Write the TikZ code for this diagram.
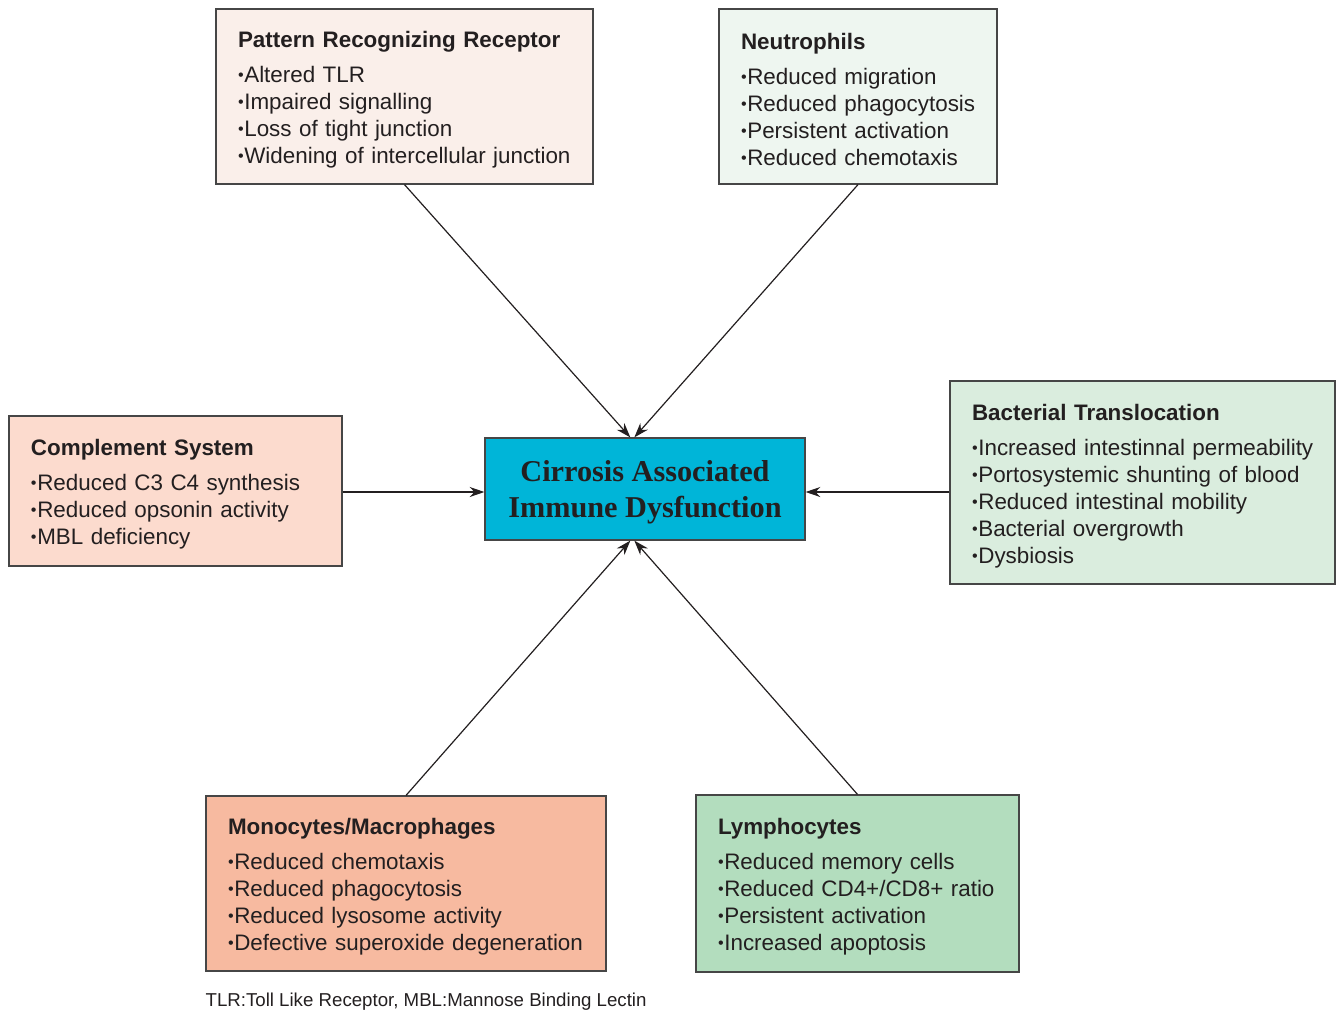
\documentclass[tikz,border=0pt]{standalone}
\usepackage{fontspec}
\setmainfont{Liberation Sans}
\newfontfamily\serifbold{Liberation Serif}
\usetikzlibrary{arrows.meta,calc}

\definecolor{inkgrey}{RGB}{35,31,32}
\definecolor{edgegrey}{RGB}{70,70,70}
\definecolor{prrfill}{RGB}{250,239,234}
\definecolor{neufill}{RGB}{238,246,240}
\definecolor{compfill}{RGB}{252,219,206}
\definecolor{bactfill}{RGB}{218,237,222}
\definecolor{monofill}{RGB}{247,186,160}
\definecolor{lymfill}{RGB}{179,221,190}
\definecolor{cadfill}{RGB}{0,181,216}

\newcommand\itm[1]{\mbox{\raisebox{0.08em}{\scalebox{0.72}{\textbullet}}\kern0.03em#1}}
\newcommand\ttl[1]{\mbox{\rule{0pt}{17pt}\textbf{#1}}}

\tikzset{every picture/.style={line width=0.9pt},
  infobox/.style={draw=edgegrey, rectangle, align=left, inner xsep=16.5pt,
    text=inkgrey, font=\fontsize{16.8}{20.25}\selectfont},
  arr/.style={draw=inkgrey, -{Stealth[length=11pt,width=7.5pt,inset=3.5pt]}}}

\begin{document}
\begin{tikzpicture}[x=0.75pt,y=0.75pt,yscale=-1,xscale=1]
\useasboundingbox (0,0) rectangle (1336,1011);

% Centre box
\node (cad) [draw=edgegrey, fill=cadfill, minimum width=240pt, minimum height=76.5pt,
  align=center, text=inkgrey, font=\serifbold\bfseries\fontsize{22.7}{27}\selectfont]
  at (645,489) {\rule{0pt}{20pt}Cirrosis Associated\\Immune Dysfunction};

% Outer boxes
\node (prr) [infobox, fill=prrfill, text width=249.75pt, minimum height=131.25pt] at (404.5,96.5)
  {\ttl{Pattern Recognizing Receptor}\\[6pt]\itm{Altered TLR}\\\itm{Impaired signalling}\\
   \itm{Loss of tight junction}\\\itm{Widening of intercellular junction}};
\node (neu) [infobox, fill=neufill, text width=175.5pt, minimum height=131.25pt] at (858,96.5)
  {\ttl{Neutrophils}\\[6pt]\itm{Reduced migration}\\\itm{Reduced phagocytosis}\\
   \itm{Persistent activation}\\\itm{Reduced chemotaxis}};
\node (comp) [infobox, fill=compfill, text width=216.75pt, minimum height=112.5pt] at (175.5,491)
  {\ttl{Complement System}\\[6pt]\itm{Reduced C3 C4 synthesis}\\\itm{Reduced opsonin activity}\\
   \itm{MBL deficiency}};
\node (bact) [infobox, fill=bactfill, text width=255.75pt, minimum height=152.25pt] at (1142.5,482.5)
  {\ttl{Bacterial Translocation}\\[6pt]\itm{Increased intestinnal permeability}\\
   \itm{Portosystemic shunting of blood}\\\itm{Reduced intestinal mobility}\\
   \itm{Bacterial overgrowth}\\\itm{Dysbiosis}};
\node (mono) [infobox, fill=monofill, text width=267pt, minimum height=131.25pt] at (406,883.5)
  {\ttl{Monocytes/Macrophages}\\[6pt]\itm{Reduced chemotaxis}\\\itm{Reduced phagocytosis}\\
   \itm{Reduced lysosome activity}\\\itm{Defective superoxide degeneration}};
\node (lym) [infobox, fill=lymfill, text width=209.25pt, minimum height=132.75pt] at (857.5,883.5)
  {\ttl{Lymphocytes}\\[6pt]\itm{Reduced memory cells}\\\itm{Reduced CD4+/CD8+ ratio}\\
   \itm{Persistent activation}\\\itm{Increased apoptosis}};

% Arrows
\draw [arr] (prr.south) -- ([xshift=-11pt]cad.north);
\draw [arr] (neu.south) -- ([xshift=-8pt]cad.north);
\draw [arr] (comp.east |- 0,492) -- (cad.west |- 0,492);
\draw [arr] (bact.west |- 0,492) -- (cad.east |- 0,492);
\draw [arr] (mono.north) -- ([xshift=-11pt]cad.south);
\draw [arr] (lym.north) -- ([xshift=-8pt]cad.south);

% Text Node
\node (note) [anchor=base west, inner sep=0pt, text=inkgrey, font=\fontsize{14}{16}\selectfont]
  at (205,1006) {TLR:Toll Like Receptor, MBL:Mannose Binding Lectin};
\end{tikzpicture}
\end{document}
